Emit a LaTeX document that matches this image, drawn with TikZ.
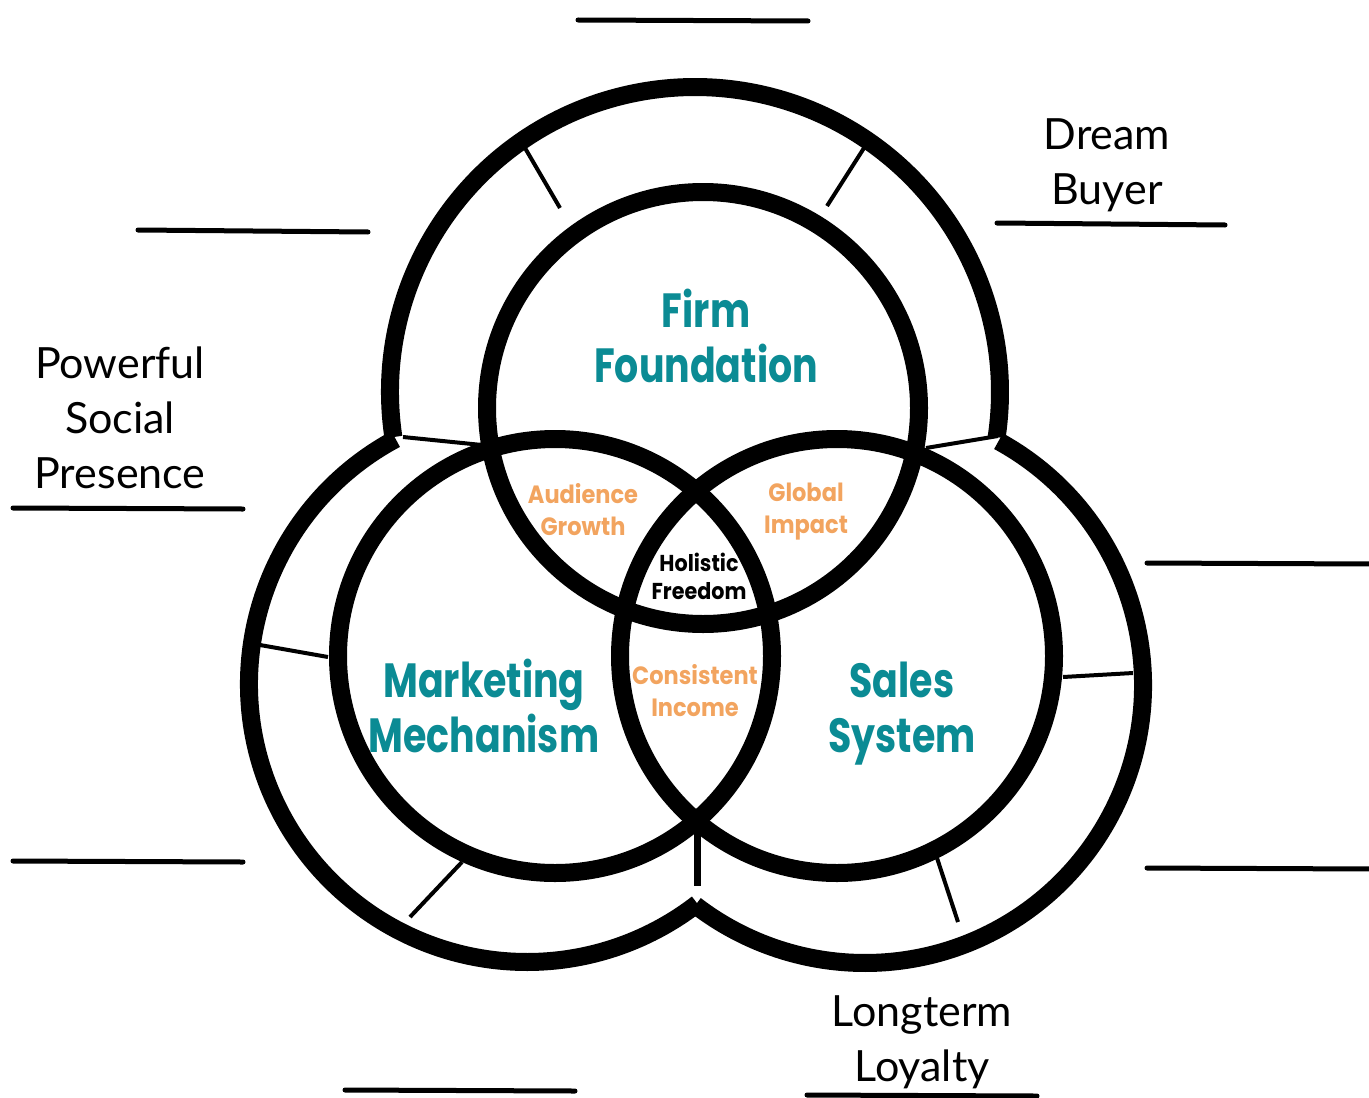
\documentclass[tikz,border=0pt]{standalone}
\usepackage{fontspec}
\setmainfont{Lato}
\newfontfamily\headfont{Poppins}
\definecolor{tealA}{HTML}{0B8B94}
\definecolor{orangeA}{HTML}{F2A45F}
\begin{document}
\begin{tikzpicture}[x=0.5pt,y=0.5pt,
  heavy/.style={line width=9pt},
  thinline/.style={line width=2pt},
  joinline/.style={line width=3.5pt},
  blankline/.style={line width=2.5pt,line cap=round},
  lbl/.style={font=\fontsize{21.5}{27.5}\selectfont, align=center, inner sep=0pt},
  core/.style={font=\headfont\bfseries\fontsize{24}{27.5}\selectfont, text=tealA, align=center, inner sep=0pt, xscale=0.79, transform shape},
  overlap/.style={font=\headfont\bfseries\fontsize{12.5}{16}\selectfont, text=orangeA, align=center, inner sep=0pt, xscale=0.9, transform shape},
  centre/.style={font=\headfont\bfseries\fontsize{11.5}{14}\selectfont, align=center, inner sep=0pt, xscale=0.9, transform shape}]
\useasboundingbox (0,0) rectangle (1369,-1097);
% centres
\coordinate (T) at (695,-392);
\coordinate (L) at (527,-684);
\coordinate (R) at (865,-685);
\coordinate (F) at (703,-408);
\coordinate (M) at (555,-656);
\coordinate (S) at (837,-656);
% outer arcs
\draw[heavy] (T) ++(188.5:152.5pt) arc[start angle=188.5,end angle=-8.5,radius=152.5pt];
\draw[heavy] (L) ++(118.2:139pt) arc[start angle=118.2,end angle=307.8,radius=139pt];
\draw[heavy] (R) ++(61.3:139pt) arc[start angle=61.3,end angle=-127.6,radius=139pt];
% tick segments
\coordinate (t1a) at (525,-148); \coordinate (t1b) at (560,-208);
\coordinate (t2a) at (864,-148); \coordinate (t2b) at (827,-206);
\coordinate (t3a) at (260,-645); \coordinate (t3b) at (328,-657);
\coordinate (t4a) at (410,-917); \coordinate (t4b) at (462,-862);
\coordinate (t5a) at (1063,-677); \coordinate (t5b) at (1133,-673);
\coordinate (t6a) at (937,-858); \coordinate (t6b) at (958,-922);
\coordinate (j1a) at (403,-437); \coordinate (j1b) at (482,-445);
\coordinate (j2a) at (926,-448); \coordinate (j2b) at (998,-436);
\coordinate (j3a) at (697,-822); \coordinate (j3b) at (697,-886);
\foreach \a/\b in {t1a/t1b,t2a/t2b,t3a/t3b,t4a/t4b,t5a/t5b,t6a/t6b,j1a/j1b,j2a/j2b}
  \draw[thinline] (\a) -- (\b);
\draw[joinline] (j3a) -- (j3b);
% inner circles
\draw[heavy] (F) circle[radius=108pt];
\draw[heavy] (M) circle[radius=108.5pt];
\draw[heavy] (S) circle[radius=108.5pt];
% blank answer lines
\coordinate (b1a) at (578,-20);   \coordinate (b1b) at (808,-21);
\coordinate (b2a) at (138,-230);  \coordinate (b2b) at (368,-232);
\coordinate (b3a) at (997,-223);  \coordinate (b3b) at (1225,-225);
\coordinate (b4a) at (13,-508);   \coordinate (b4b) at (243,-509);
\coordinate (b5a) at (1147,-563); \coordinate (b5b) at (1372,-564);
\coordinate (b6a) at (13,-861);   \coordinate (b6b) at (243,-862);
\coordinate (b7a) at (1147,-868); \coordinate (b7b) at (1372,-869);
\coordinate (b8a) at (345,-1090); \coordinate (b8b) at (575,-1091);
\coordinate (b9a) at (807,-1095); \coordinate (b9b) at (1037,-1096);
\foreach \a/\b in {b1a/b1b,b2a/b2b,b3a/b3b,b4a/b4b,b5a/b5b,b6a/b6b,b7a/b7b,b8a/b8b,b9a/b9b}
  \draw[blankline] (\a) -- (\b);
% outer labels
\node[lbl] (dream) at (1107,-165) {Dream\\Buyer};
\node[lbl] (social) at (120,-418) {Powerful\\Social\\Presence};
\node[lbl] (loyal) at (922,-1042) {Longterm\\Loyalty};
% core labels
\node[core] (firm) at (706,-336) {Firm\\Foundation};
\node[core] (mark) at (484,-706) {Marketing\\Mechanism};
\node[core] (sales) at (902,-714) {Sales\\System};
% overlap labels
\node[overlap] (aud) at (583,-510) {Audience\\Growth};
\node[overlap] (glob) at (806,-512) {Global\\Impact};
\node[overlap] (cons) at (695,-691) {Consistent\\Income};
\node[centre] (hol) at (699,-576) {Holistic\\Freedom};
\end{tikzpicture}
\end{document}
